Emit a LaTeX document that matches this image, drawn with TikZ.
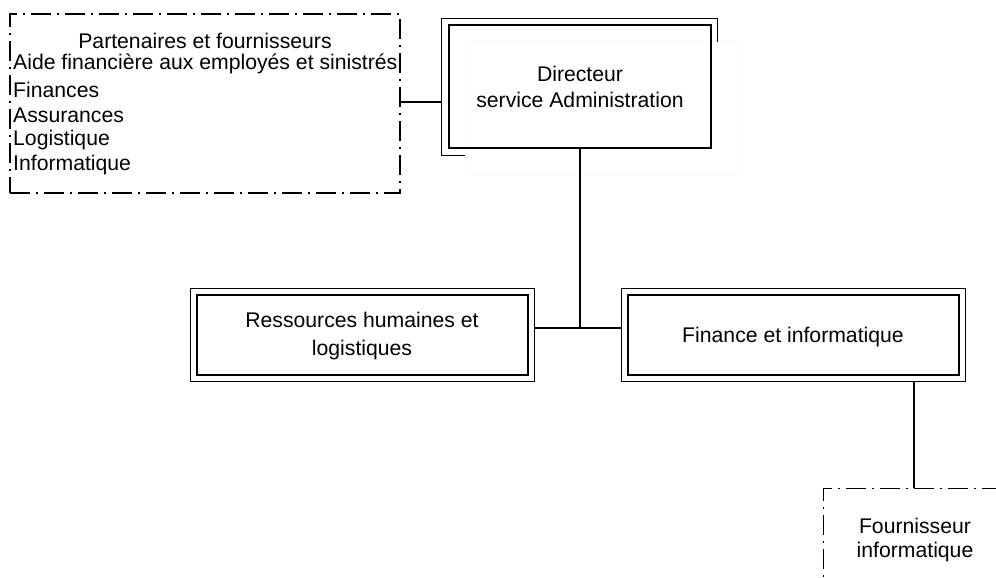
\documentclass[tikz,border=0pt]{standalone}
\usepackage{fontspec}
\setmainfont{Liberation Sans}
\usetikzlibrary{fit,calc}
\begin{document}
\begin{tikzpicture}[x=1pt,y=-1pt,
  txt/.style={font=\fontsize{21.2}{26}\selectfont, inner sep=0pt},
  dashdot/.style={draw, line width=1.2pt, dash pattern=on 20pt off 6pt on 2pt off 6pt},
  innerbox/.style={draw, line width=2.2pt, inner sep=0pt},
  outerbox/.style={draw, line width=1pt, inner sep=0pt},
  link/.style={line width=1.3pt}]
\clip (0,0) rectangle (996,578);
\fill[white] (0,0) rectangle (996,578);

% faint trace behind the director box
\draw[gray!4, line width=1pt] (466,43) rectangle (740,173);

% partners box
\node[dashdot, inner sep=0pt, minimum width=390pt, minimum height=179pt] (part) at (205,103.5) {};
\node[txt] (partT) at (205,41) {Partenaires et fournisseurs};
\node[txt, anchor=west] (p1) at (13,64) {Aide financière aux employés et sinistrés};
\node[txt, anchor=west] (p2) at (13,90) {Finances};
\node[txt, anchor=west] (p3) at (13,115) {Assurances};
\node[txt, anchor=west] (p4) at (13,140) {Logistique};
\node[txt, anchor=west] (p5) at (13,165) {Informatique};

% director box with its partial outer frame
\node[innerbox, minimum width=262pt, minimum height=123pt] (dir) at (580,86.5) {};
\node[txt, align=center] (dirT) at (580,87) {Directeur\\service Administration};
\coordinate (dirOut) at ($(dir.north west)+(-6,-5)$);
\draw[line width=1pt] ($(dir.north east)+(5,18)$) -- ($(dir.north east)+(5,-5)$) -- (dirOut) -- ($(dir.south west)+(-6,6)$) -- ($(dir.south west)+(17,6)$);

% department boxes
\node[innerbox, minimum width=331pt, minimum height=80pt] (res) at (362.5,335) {};
\node[outerbox, fit=(res), inner sep=5pt] (resO) {};
\node[txt, align=center, font=\fontsize{21.2}{28}\selectfont] (resT) at (362,336) {Ressources humaines et\\logistiques};

\node[innerbox, minimum width=331pt, minimum height=80pt] (fin) at (793.5,335) {};
\node[outerbox, fit=(fin), inner sep=5pt] (finO) {};
\node[txt] (finT) at (793,337) {Finance et informatique};

% supplier box, running past the page edge
\node[dashdot, inner sep=0pt, minimum width=240pt, minimum height=140pt, anchor=north west] (four) at (823,488) {};
\node[txt, align=center, font=\fontsize{21.2}{24.5}\selectfont] (fourT) at (915,540) {Fournisseur\\informatique};

% connectors
\coordinate (j) at (580,328);
\draw[link] (part.east |- 0,102) -- (dirOut |- 0,102);
\draw[link] (dir.south) -- (j);
\draw[link] (j -| resO.east) -- (j -| finO.west);
\coordinate (f) at (914,0);
\draw[link] (f |- finO.south) -- (f |- four.north);
\end{tikzpicture}
\end{document}
